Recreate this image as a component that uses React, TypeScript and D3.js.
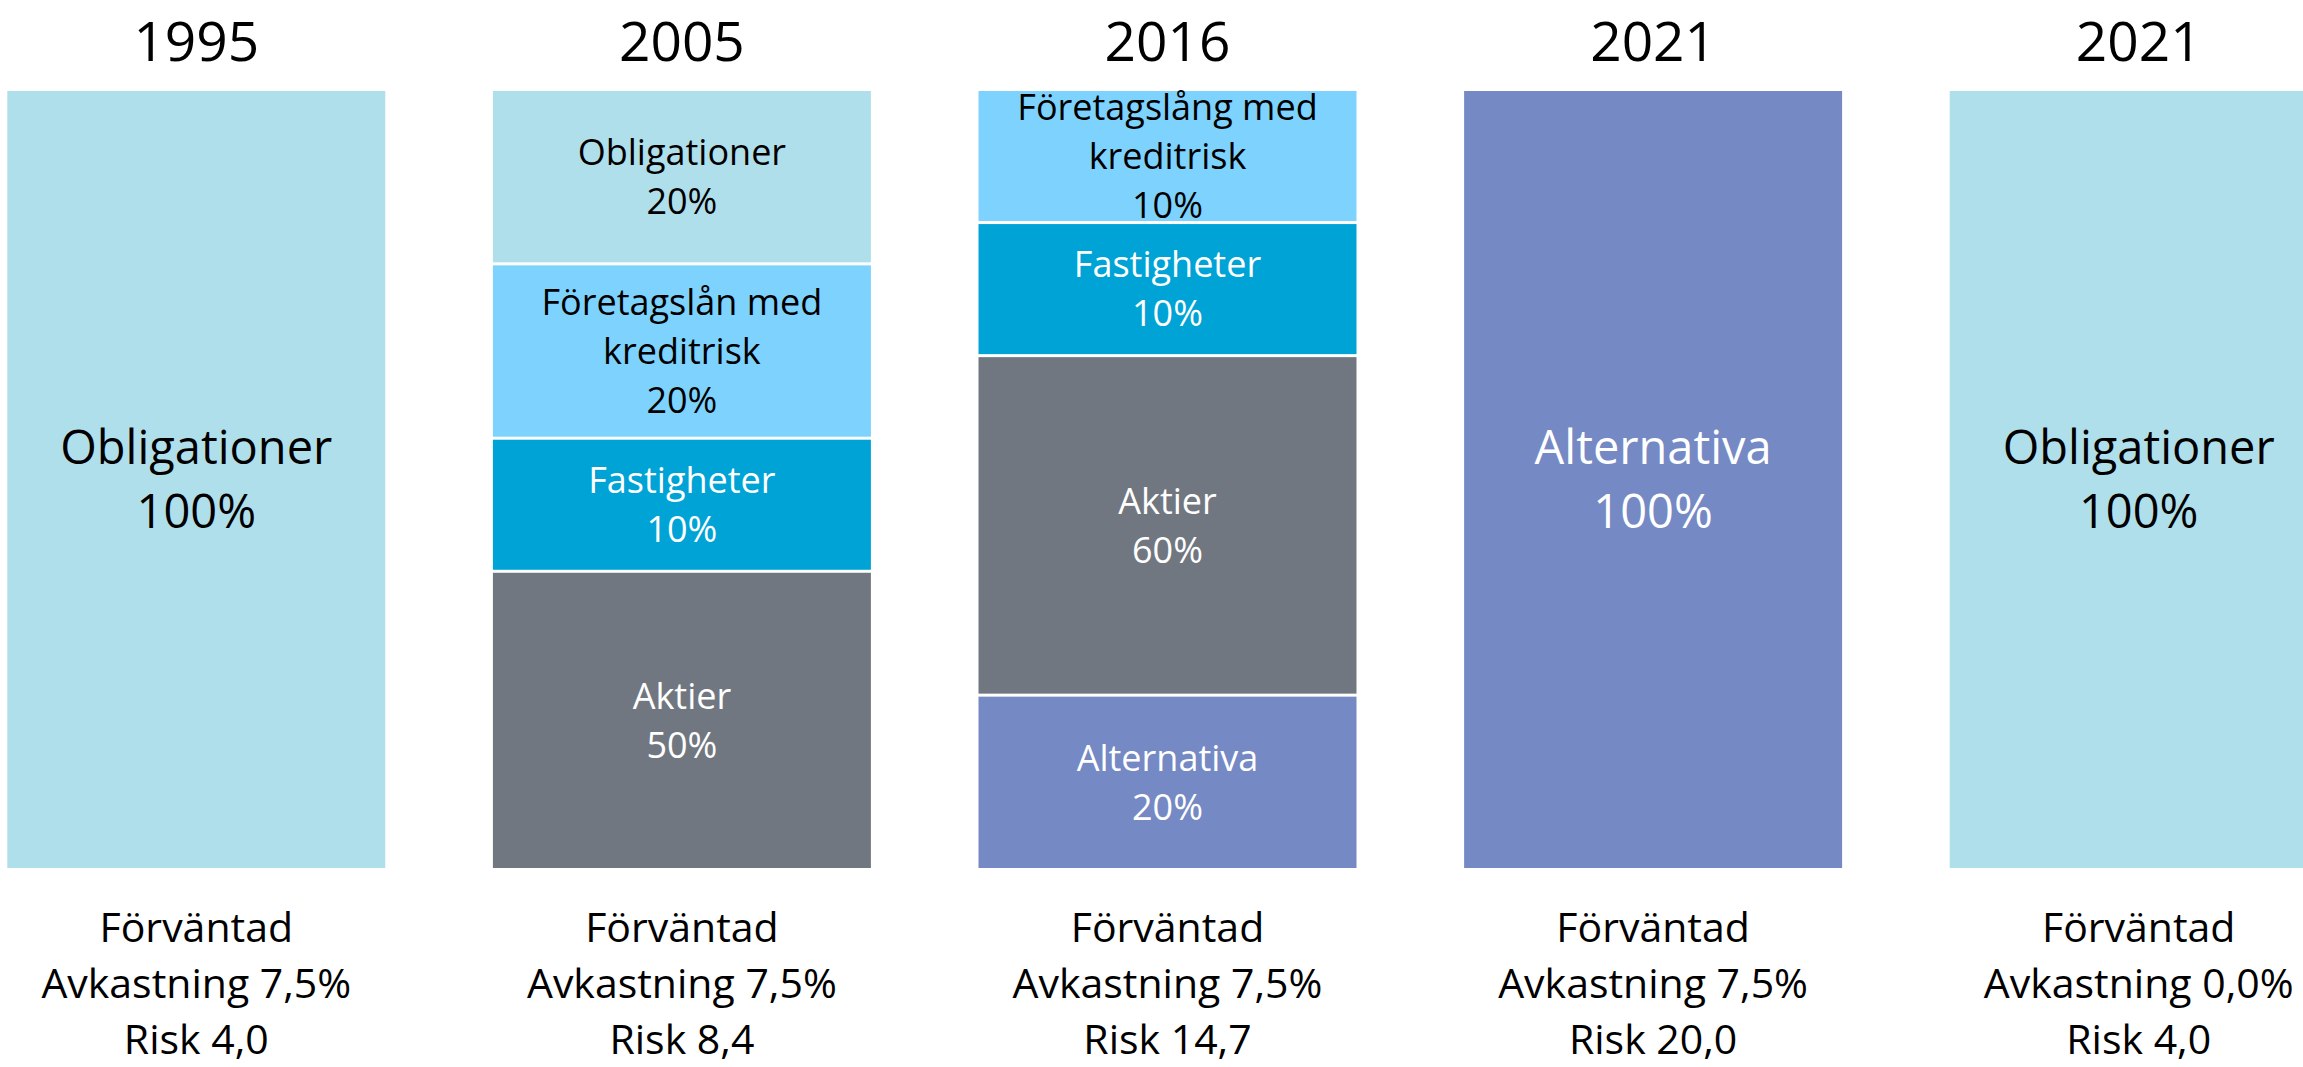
import React from "react";
import * as d3 from "d3";

// ---- data ----
const columnIds = ["c1995", "c2005", "c2016", "c2021a", "c2021b"];
const columnTitles = ["1995", "2005", "2016", "2021", "2021"];
const expectedReturn = ["7,5%", "7,5%", "7,5%", "7,5%", "0,0%"];
const riskValues = ["4,0", "8,4", "14,7", "20,0", "4,0"];

const assetKeys = ["bonds", "credit", "realEstate", "equities", "alternatives"];
const assetColors = ["#B0DFEC", "#7DD3FE", "#00A3D6", "#717780", "#7589C4"];
const assetTextColors = ["#000000", "#000000", "#FFFFFF", "#FFFFFF", "#FFFFFF"];

const allocation1995 = [{ asset: "bonds", label: "Obligationer", pct: 100 }];
const allocation2005 = [
  { asset: "bonds", label: "Obligationer", pct: 20 },
  { asset: "credit", label: "Företagslån med\nkreditrisk", pct: 20 },
  { asset: "realEstate", label: "Fastigheter", pct: 10 },
  { asset: "equities", label: "Aktier", pct: 50 },
];
const allocation2016 = [
  { asset: "credit", label: "Företagslång med\nkreditrisk", pct: 10 },
  { asset: "realEstate", label: "Fastigheter", pct: 10 },
  { asset: "equities", label: "Aktier", pct: 60 },
  { asset: "alternatives", label: "Alternativa", pct: 20 },
];
const allocation2021a = [{ asset: "alternatives", label: "Alternativa", pct: 100 }];
const allocation2021b = [{ asset: "bonds", label: "Obligationer", pct: 100 }];

const allocations = [allocation1995, allocation2005, allocation2016, allocation2021a, allocation2021b];

// ---- layout ----
const W = 2303;
const H = 1067;
const FONT = "'Open Sans', 'Noto Sans', sans-serif";
const Y_TOP = 91;
const Y_BOTTOM = 868;
const GAP = 3;
const FOOT_FS = 41;
const FOOT_LH = 56;
const FOOT_BASE = 942;

export default function App() {
  const x = d3
    .scaleBand<string>()
    .domain(columnIds)
    .range([7.3, 2327.7])
    .paddingInner(0.2216)
    .paddingOuter(0);

  const color = d3.scaleOrdinal<string, string>().domain(assetKeys).range(assetColors);
  const textColor = d3.scaleOrdinal<string, string>().domain(assetKeys).range(assetTextColors);

  // visual weight of a block: base height plus proportional share (illustrative, not to scale)
  const weight = d3.scaleLinear().domain([0, 100]).range([21.5, 121.5]);

  return (
    <svg
      width={W}
      height={H}
      viewBox={`0 0 ${W} ${H}`}
      style={{ position: "absolute", left: 0, top: 0, background: "#fff", overflow: "hidden" }}
      fontFamily={FONT}
    >
      <rect x={0} y={0} width={W} height={H} fill="#fff" />
      {columnIds.map((id, ci) => {
        const x0 = x(id) as number;
        const bw = x.bandwidth();
        const cx = x0 + bw / 2;
        const segs = allocations[ci];
        const weights = segs.map((s) => weight(s.pct));
        const total = d3.sum(weights);
        const avail = Y_BOTTOM - Y_TOP - GAP * (segs.length - 1);
        const h = d3.scaleLinear().domain([0, total]).range([0, avail]);
        const cum = d3.cumsum(weights);
        const single = segs.length === 1;
        const fs = single ? 47 : 36;
        const lh = single ? 64 : 49;
        const footLines = ["Förväntad", `Avkastning ${expectedReturn[ci]}`, `Risk ${riskValues[ci]}`];
        return (
          <g key={id}>
            <text x={cx} y={61} textAnchor="middle" fontSize={55} fill="#000">
              {columnTitles[ci]}
            </text>
            {segs.map((s, si) => {
              const start = si === 0 ? 0 : cum[si - 1];
              const y0 = Y_TOP + h(start) + GAP * si;
              const sh = h(weights[si]);
              const lines = [...s.label.split("\n"), `${s.pct}%`];
              const mid = y0 + sh / 2;
              const firstBase = mid - ((lines.length - 1) * lh) / 2 + fs * 0.357;
              return (
                <g key={si}>
                  <rect x={x0} y={y0} width={bw} height={sh} fill={color(s.asset)} />
                  {lines.map((ln, li) => (
                    <text
                      key={li}
                      x={cx}
                      y={firstBase + li * lh}
                      textAnchor="middle"
                      fontSize={fs}
                      fill={textColor(s.asset)}
                    >
                      {ln}
                    </text>
                  ))}
                </g>
              );
            })}
            {footLines.map((ln, li) => (
              <text
                key={`f${li}`}
                x={cx}
                y={FOOT_BASE + li * FOOT_LH}
                textAnchor="middle"
                fontSize={FOOT_FS}
                fill="#000"
              >
                {ln}
              </text>
            ))}
          </g>
        );
      })}
    </svg>
  );
}
